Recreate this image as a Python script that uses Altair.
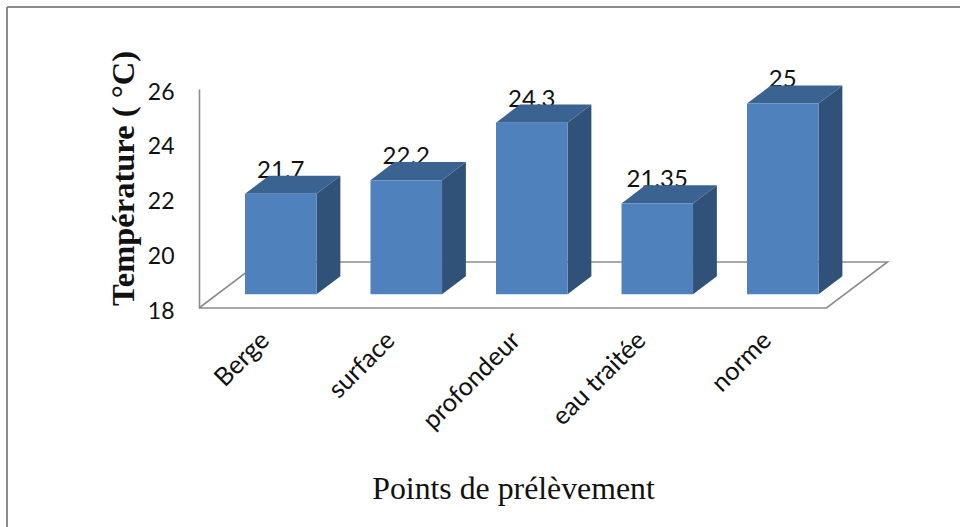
import altair as alt
import pandas as pd

# Measured temperatures at each sampling point
categories = ["Berge", "surface", "profondeur", "eau traitée", "norme"]
values = [21.7, 22.2, 24.3, 21.35, 25]
value_labels = ["21.7", "22.2", "24.3", "21.35", "25"]

# Pseudo-3D projection, in axis units: categories are one unit apart
BASE = 18.0
BASE_LIFT = 0.5     # the bars stand this far up the floor
TOP_LIFT = 0.47
FIRST_BAR = 0.3665  # left edge of the first bar
BAR_W = 0.57
DEPTH_X = 0.19
DEPTH_Y = 0.66
X_MAX = 5.49
FLOOR_DX = 0.486
FLOOR_DY = 1.68
FLOOR_FRONT = 5.0

FRONT = "#4F81BD"
TOP = "#3B6391"
SIDE = "#305278"
LINE = "#8C8C8C"

x_scale = alt.Scale(domain=[0, X_MAX], nice=False, zero=False)
y_scale = alt.Scale(domain=[18, 26], nice=False, zero=False)

front_rows, top_rows, side_rows, label_rows = [], [], [], []
for i, (cat, v, lab) in enumerate(zip(categories, values, value_labels)):
    x0 = FIRST_BAR + i
    x1 = x0 + BAR_W
    y0 = BASE + BASE_LIFT
    yv = v + TOP_LIFT
    front_rows.append(dict(bar=i, x=x0, x2=x1, y=yv, y2=y0))
    top_rows += [
        dict(bar=i, x=x0, lo=yv, hi=yv),
        dict(bar=i, x=x0 + DEPTH_X, lo=yv, hi=yv + DEPTH_Y),
        dict(bar=i, x=x1, lo=yv, hi=yv + DEPTH_Y),
        dict(bar=i, x=x1 + DEPTH_X, lo=yv + DEPTH_Y, hi=yv + DEPTH_Y),
    ]
    side_rows += [
        dict(bar=i, x=x1, lo=y0, hi=yv),
        dict(bar=i, x=x1 + DEPTH_X, lo=y0 + DEPTH_Y, hi=yv + DEPTH_Y),
    ]
    label_rows.append(dict(x=x0 + BAR_W / 2, y=yv + DEPTH_Y, text=lab,
                           cat=cat, floor=BASE))

labels_df = pd.DataFrame(label_rows)
floor_df = pd.DataFrame([
    dict(o=0, x=0, y=BASE),
    dict(o=1, x=FLOOR_FRONT, y=BASE),
    dict(o=2, x=FLOOR_FRONT + FLOOR_DX, y=BASE + FLOOR_DY),
    dict(o=3, x=FLOOR_DX, y=BASE + FLOOR_DY),
    dict(o=4, x=0, y=BASE),
])

# Floor outline, carrying the chart's two axes
floor = alt.Chart(floor_df).mark_line(
    color=LINE, strokeWidth=1.6, clip=False
).encode(
    x=alt.X("x:Q", scale=x_scale, axis=alt.Axis(
        title="Points de prélèvement", labels=False, ticks=False, domain=False,
        grid=False, titleFont="Liberation Serif", titleFontSize=31.8,
        titleFontWeight="normal", titleColor="#111111",
        titleX=314, titleY=190, titleBaseline="alphabetic", titleAnchor="middle",
    )),
    y=alt.Y("y:Q", scale=y_scale, axis=alt.Axis(
        title="Température ( °C)", values=[18, 20, 22, 24, 26], ticks=False,
        grid=False, domainColor=LINE, domainWidth=1.6, labelFont="Lato",
        labelFontSize=23, labelColor="#111111", labelPadding=25, labelOffset=3,
        titleFont="Liberation Serif", titleFontSize=32.5, titleFontWeight="bold",
        titleColor="#111111", titleX=-66, titleY=89, titleAngle=270,
        titleBaseline="alphabetic", titleAlign="center",
    )),
    order="o:O",
)

# Value labels sit behind the bars, so the top faces overlap them slightly
value_text = alt.Chart(labels_df).mark_text(
    font="Lato", fontSize=24, color="#111111", baseline="alphabetic", dy=2
).encode(x=alt.X("x:Q", scale=x_scale), y=alt.Y("y:Q", scale=y_scale), text="text:N")

front = alt.Chart(pd.DataFrame(front_rows)).mark_rect(color=FRONT, clip=False).encode(
    x=alt.X("x:Q", scale=x_scale), x2="x2:Q",
    y=alt.Y("y:Q", scale=y_scale), y2="y2:Q",
)


def face(rows, colour):
    return alt.Chart(pd.DataFrame(rows)).mark_area(
        color=colour, interpolate="linear", clip=False
    ).encode(
        x=alt.X("x:Q", scale=x_scale),
        y=alt.Y("lo:Q", scale=y_scale),
        y2="hi:Q",
        detail="bar:N",
    )


# The text offsets turn with the label, so they are given along its own axes
category_text = alt.Chart(labels_df).mark_text(
    font="Lato", fontSize=25.5, color="#111111", angle=315, align="right",
    baseline="middle", dx=-31, dy=9,
).encode(x=alt.X("x:Q", scale=x_scale), y=alt.Y("floor:Q", scale=y_scale), text="cat:N")

# Outer frame: only its top and left edges fall inside the page
frame_top = alt.Chart(pd.DataFrame({"a": [0]})).mark_rule(
    color=LINE, strokeWidth=2, clip=False
).encode(x=alt.value(-192), x2=alt.value(770), y=alt.value(-82))
frame_left = alt.Chart(pd.DataFrame({"a": [0]})).mark_rule(
    color=LINE, strokeWidth=2, clip=False
).encode(x=alt.value(-192), y=alt.value(-82), y2=alt.value(440))

chart = alt.layer(
    frame_top, frame_left, floor, value_text,
    face(side_rows, SIDE), face(top_rows, TOP), front, category_text,
).resolve_scale(x="shared", y="shared").properties(
    width=689, height=219,
    padding={"left": 199, "top": 89, "right": 72, "bottom": 219},
    autosize=alt.AutoSizeParams(type="none"),
    background="white",
).configure_view(stroke=None)

chart.save("out.html", embed_options={"renderer": "svg", "actions": False})
